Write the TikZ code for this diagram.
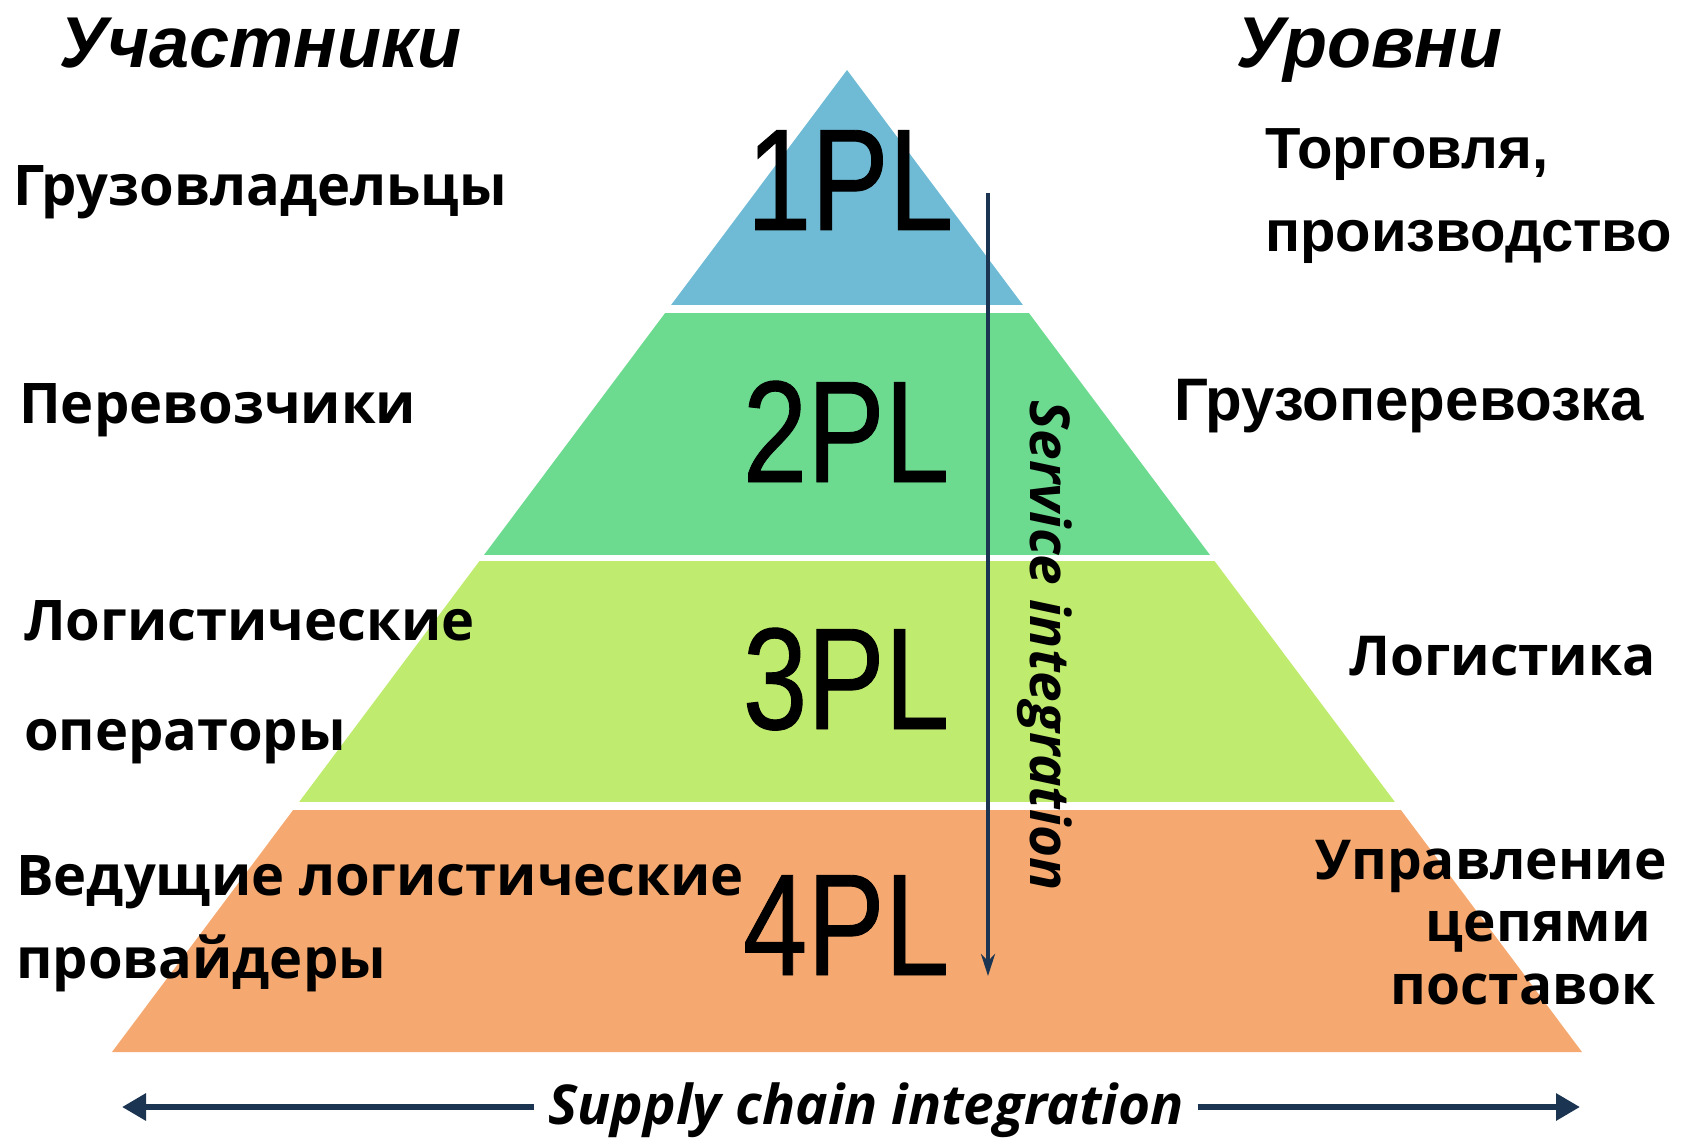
\documentclass[tikz,border=0pt]{standalone}
\usepackage{fontspec}
\setmainfont{Open Sans}
\newfontfamily\arialfont{Liberation Sans}
\newfontfamily\plfont[FakeStretch=0.8,FakeBold=0.6]{Liberation Sans}
\usetikzlibrary{arrows.meta}

\definecolor{lvlone}{RGB}{111,187,213}
\definecolor{lvltwo}{RGB}{108,218,143}
\definecolor{lvlthree}{RGB}{191,235,110}
\definecolor{lvlfour}{RGB}{245,169,112}
\definecolor{arrowblue}{RGB}{27,52,82}

\tikzset{
  plname/.style={anchor=base, inner sep=0pt, font=\plfont\fontsize{145}{150}\selectfont},
  leftlbl/.style={anchor=base west, inner sep=0pt, font=\fontsize{56}{60}\selectfont\bfseries},
  rightlbl/.style={anchor=base east, inner sep=0pt, font=\fontsize{55}{60}\selectfont\bfseries},
  arlbl/.style={anchor=base west, inner sep=0pt, font=\arialfont\fontsize{58}{64}\selectfont\bfseries},
  headlbl/.style={anchor=base west, inner sep=0pt, font=\arialfont\fontsize{72}{76}\selectfont\bfseries\itshape},
  integlbl/.style={inner sep=0pt, font=\fontsize{55}{60}\selectfont\bfseries\itshape}
}

\begin{document}
\begin{tikzpicture}[x=1pt, y=-1pt]
        \useasboundingbox (0,0) rectangle (1681,1139);

        % Pyramid bands
        \begin{scope}
            \clip (847,70) -- (112,1052) -- (1582,1052) -- cycle;
            \fill[lvlone] (0,60) rectangle (1681,305);
            \fill[lvltwo] (0,313) rectangle (1681,555);
            \fill[lvlthree] (0,561) rectangle (1681,802);
            \fill[lvlfour] (0,810) rectangle (1681,1060);
        \end{scope}

        % Level names
        \node (pl1) [plname] at (850,230) {1PL};
        \node (pl2) [plname] at (846,482) {2PL};
        \node (pl3) [plname] at (846,729) {3PL};
        \node (pl4) [plname] at (846,975) {4PL};

        % Headings
        \node (participants) [headlbl] at (59,68) {Участники};
        \node (levels) [headlbl] at (1236,68) {Уровни};

        % Participants (left)
        \node (owners) [leftlbl] at (13,206) {Грузовладельцы};
        \node (carriers) [leftlbl] at (19,423) {Перевозчики};
        \node (operators1) [leftlbl] at (24,640) {Логистические};
        \node (operators2) [leftlbl] at (24,750) {операторы};
        \node (providers1) [leftlbl] at (16,895) {Ведущие логистические};
        \node (providers2) [leftlbl] at (16,978) {провайдеры};

        % Levels (right)
        \node (trade1) [arlbl] at (1265,169) {Торговля,};
        \node (trade2) [arlbl] at (1265,252) {производство};
        \node (freight) [arlbl, font=\arialfont\fontsize{60}{64}\selectfont\bfseries] at (1174,420) {Грузоперевозка};
        \node (logistics) [rightlbl] at (1656,675) {Логистика};
        \node (scm1) [rightlbl] at (1667,879) {Управление};
        \node (scm2) [rightlbl] at (1651,941) {цепями};
        \node (scm3) [rightlbl] at (1656,1004) {поставок};

        % Service integration arrow
        \coordinate (sitop) at (988,193);
        \coordinate (sibot) at (988,976);
        \draw[arrowblue, line width=4.5pt, -{Stealth[length=22pt,width=14pt]}] (sitop) -- (sibot);
        \node (service) [integlbl, rotate=-90] at (1045,646) {Service integration};

        % Supply chain integration arrow
        \node (supply) [integlbl, anchor=base] at (866,1124) {Supply chain integration};
        \coordinate (scleft) at (122,1107);
        \coordinate (scright) at (1580,1107);
        \draw[arrowblue, line width=6pt, -{Triangle[length=24pt,width=26pt]}] (supply.west |- scleft) ++(-14,0) -- (scleft);
        \draw[arrowblue, line width=6pt, -{Triangle[length=24pt,width=26pt]}] (supply.east |- scright) ++(14,0) -- (scright);

    \end{tikzpicture}
\end{document}
